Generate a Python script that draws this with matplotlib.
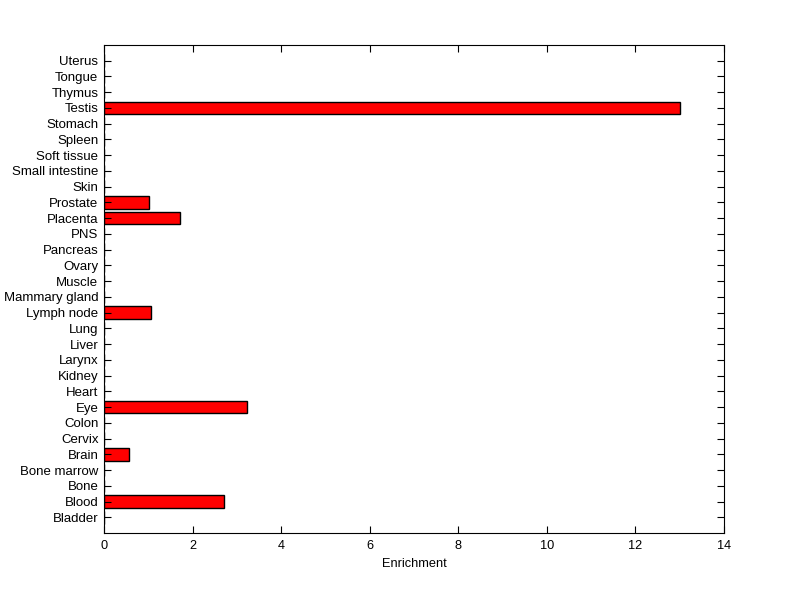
import matplotlib
matplotlib.use("Agg")
import matplotlib.pyplot as plt

tissues = ["Bladder", "Blood", "Bone", "Bone marrow", "Brain", "Cervix", "Colon", "Eye",
           "Heart", "Kidney", "Larynx", "Liver", "Lung", "Lymph node", "Mammary gland",
           "Muscle", "Ovary", "Pancreas", "PNS", "Placenta", "Prostate", "Skin",
           "Small intestine", "Soft tissue", "Spleen", "Stomach", "Testis", "Thymus",
           "Tongue", "Uterus"]
enrichment = [0, 2.71, 0, 0, 0.57, 0, 0, 3.24,
              0, 0, 0, 0, 0, 1.07, 0,
              0, 0, 0, 0, 1.72, 1.02, 0,
              0, 0, 0, 0, 13.0, 0,
              0, 0]

plt.rcParams['font.family'] = ['Liberation Sans', 'DejaVu Sans']
fig = plt.figure(figsize=(8.0, 5.99), dpi=100)
ax = fig.add_axes([0.13, 0.11, 0.775, 0.815])

pos = list(range(1, len(tissues) + 1))
ax.barh(pos, enrichment, height=0.8, color='#ff0000', edgecolor='black', linewidth=1.0)
ax.set_xlim(0, 14)
ax.set_ylim(0, len(tissues) + 1)
ax.set_yticks(pos)
ax.set_yticklabels(tissues)
ax.set_xticks(range(0, 15, 2))
ax.set_xlabel("Enrichment", fontsize=9.2, labelpad=4)
ax.tick_params(axis='both', direction='in', length=5, width=0.8, labelsize=9.5,
               top=True, right=True, pad=4)
ax.tick_params(axis='x', labelsize=9.2, pad=5)
for s in ax.spines.values():
    s.set_linewidth(0.8)

fig.savefig("out.png", dpi=100)
